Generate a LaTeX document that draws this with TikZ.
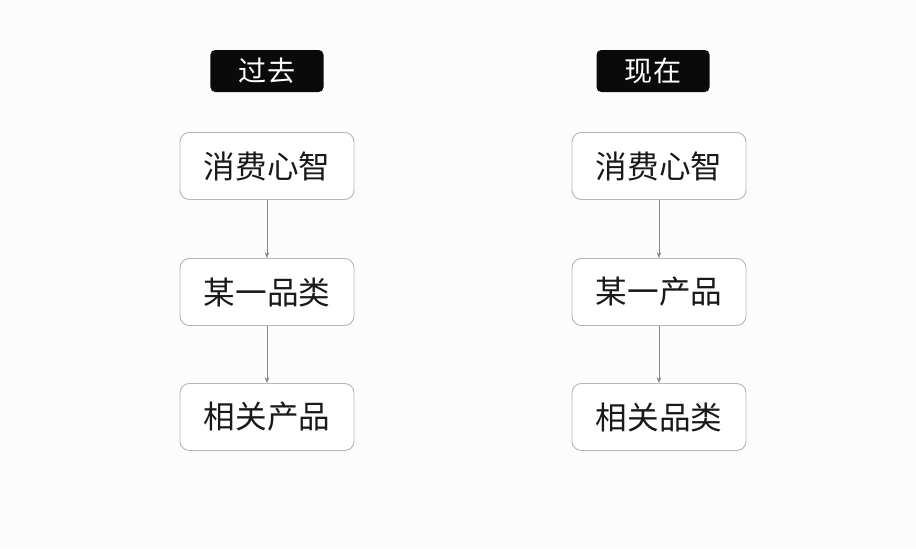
\documentclass[tikz,border=0pt]{standalone}
\usepackage{fontspec}
\newfontfamily\cjk{Noto Sans CJK SC}
\usetikzlibrary{positioning, arrows.meta}
\definecolor{boxline}{RGB}{190, 180, 175}
\definecolor{arrowline}{RGB}{150, 130, 115}
\definecolor{headfill}{RGB}{10, 10, 10}
\tikzset{
    headnode/.style={rectangle, rounded corners=4pt, fill=headfill, text=white, minimum width=3.39cm, minimum height=1.26cm, font=\cjk\fontsize{24}{26}\selectfont},
    stagenode/.style={rectangle, rounded corners=8pt, draw=boxline, fill=white, line width=0.8pt, minimum width=5.22cm, minimum height=2.01cm, font=\cjk\fontsize{27}{30}\selectfont, text=black!90},
    flow/.style={-{Stealth[length=5pt, width=4pt]}, draw=arrowline, line width=0.6pt}
}
\begin{document}
\begin{tikzpicture}[x=0.03cm, y=-0.03cm]
    \fill[white!98!gray] (0,0) rectangle (916,548);
    \useasboundingbox (0,0) rectangle (916,548);

    % left column
    \node[headnode] (pasthead) at (267,71) {过去};
    \node[stagenode] (past1) at (267,166) {消费心智};
    \node[stagenode] (past2) at (267,292) {某一品类};
    \node[stagenode] (past3) at (267,417) {相关产品};

    % right column
    \node[headnode] (nowhead) at (653,71) {现在};
    \node[stagenode] (now1) at (659,166) {消费心智};
    \node[stagenode] (now2) at (659,292) {某一产品};
    \node[stagenode] (now3) at (659,417) {相关品类};

    \draw[flow] (past1) -- (past2);
    \draw[flow] (past2) -- (past3);
    \draw[flow] (now1) -- (now2);
    \draw[flow] (now2) -- (now3);
\end{tikzpicture}
\end{document}
